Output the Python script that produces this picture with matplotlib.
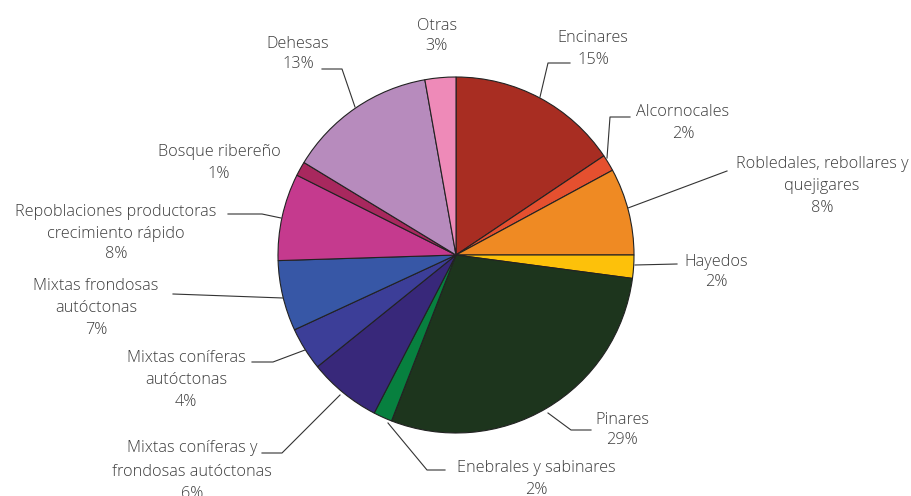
import numpy as np
import matplotlib.pyplot as plt

# forest types (clockwise from 12 o'clock)
tipos = ["Encinares", "Alcornocales", "Robledales, rebollares y\nquejigares", "Hayedos",
         "Pinares", "Enebrales y sabinares", "Mixtas coníferas y\nfrondosas autóctonas",
         "Mixtas coníferas\nautóctonas", "Mixtas frondosas\nautóctonas",
         "Repoblaciones productoras\ncrecimiento rápido", "Bosque ribereño",
         "Dehesas", "Otras"]
valores = [15.6, 1.5, 7.9, 2.1, 28.8, 1.7, 6.6, 3.9, 6.4, 7.9, 1.3, 13.5, 2.8]
etiquetas_pct = ["15%", "2%", "8%", "2%", "29%", "2%", "6%", "4%", "7%", "8%", "1%", "13%", "3%"]
colores = ["#A82D22", "#E5502F", "#EF8A23", "#FDC10A", "#1D351D", "#07803F", "#38287A",
           "#3C3E98", "#3757A6", "#C53A8E", "#A8285E", "#B78BBD", "#EE8AB8"]

# layout (screen pixels, y from top): text centre x, line centre ys, leader polyline
texto_pos = [(593, [37, 58]), (683, [110, 132]), (822, [163, 185, 206]), (716, [260, 281]),
             (622, [418, 439]), (536, [467, 488]), (192, [447, 470, 492]),
             (186, [357, 379, 400]), (96, [285, 307, 328]), (116, [210, 232, 253]),
             (219, [150, 172]), (298, [42, 63]), (437, [24, 45])]
lineas = [[(540, 97), (548, 63), (570, 63)],
          [(607, 158), (610, 117), (630, 117)],
          [(628, 208), (727, 171)],
          [(635, 265), (677, 264)],
          [(548, 413), (571, 430), (591, 430)],
          [(388, 423), (427, 470), (445, 470)],
          [(340, 395), (282, 453), (262, 453)],
          [(305, 350), (273, 362), (252, 362)],
          [(283, 298), (173, 294)],
          [(281, 218), (262, 214), (228, 214)],
          None,
          [(355, 107), (342, 69), (322, 69)],
          None]

W, H = 912, 496
fig = plt.figure(figsize=(W / 100, H / 100), dpi=100)
ax = fig.add_axes([0, 0, 1, 1])

ax.pie(valores, colors=colores, startangle=90, counterclock=False,
       center=(456, H - 255), radius=178, frame=True,
       wedgeprops=dict(edgecolor="#222222", linewidth=0.8))
ax.set_xlim(0, W)
ax.set_ylim(0, H)
ax.set_aspect("equal")
ax.axis("off")

gris = "#3d3d3d"
for nombre, pct, (tx, ys), ln in zip(tipos, etiquetas_pct, texto_pos, lineas):
    filas = nombre.split("\n") + [pct]
    for fila, yc in zip(filas, ys):
        ax.text(tx, H - (yc + 5.5), fila, ha="center", va="baseline",
                fontsize=11.7, color=gris, family="Open Sans", fontweight="light")
    if ln is not None:
        xs = [p[0] for p in ln]
        yy = [H - p[1] for p in ln]
        ax.plot(xs, yy, color="#333333", lw=0.8)

plt.savefig("out.png", dpi=100)
